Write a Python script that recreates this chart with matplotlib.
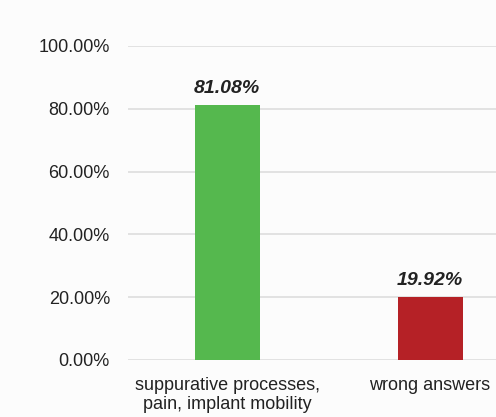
import matplotlib
matplotlib.use("Agg")
import matplotlib.pyplot as plt
from matplotlib.ticker import FuncFormatter

categories = ["suppurative processes,\npain, implant mobility", "wrong answers"]
values = [81.08, 19.92]
colors = ["#55b84e", "#b52126"]
yticks = [0, 20, 40, 60, 80, 100]

plt.rcParams["font.family"] = ["Liberation Sans", "DejaVu Sans"]
fig = plt.figure(figsize=(4.96, 4.17), dpi=100, facecolor="#fcfcfc")
ax = fig.add_axes([128 / 496, 1 - 360 / 417, 368 / 496, 314 / 417], facecolor="#fcfcfc")

x = range(len(values))
ax.bar(x, values, width=0.32, color=colors, zorder=3)
for xi, v in zip(x, values):
    ax.text(xi, v + 2.8, "%.2f%%" % v, ha="center", va="bottom",
            fontsize=14, fontweight="bold", fontstyle="italic", color="#222222")

ax.set_ylim(0, 100)
ax.set_xlim(-0.488, 1.325)
ax.set_yticks(yticks)
ax.yaxis.set_major_formatter(FuncFormatter(lambda v, p: "%.2f%%" % v))
ax.yaxis.grid(True, color="#dddddd", lw=1.2, zorder=0)
ax.set_xticks(list(x))
ax.set_xticklabels(categories, fontsize=13, color="#222222", linespacing=1.15)
ax.tick_params(axis="both", length=0, labelsize=13, colors="#222222")
ax.tick_params(axis="y", pad=13)
ax.tick_params(axis="x", pad=12)
for s in ax.spines.values():
    s.set_visible(False)

fig.savefig("out.png", dpi=100, facecolor=fig.get_facecolor())
